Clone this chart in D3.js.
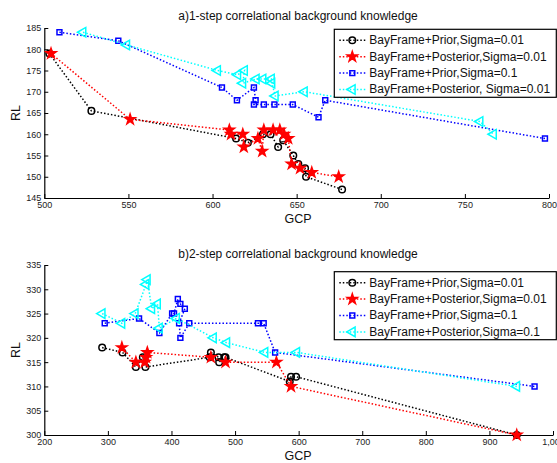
<!DOCTYPE html>
<html>
<head>
<meta charset="utf-8">
<script src="https://cdn.jsdelivr.net/npm/d3@7"></script>
<style>
  body { margin: 0; background: #fff; }
  svg { display: block; font-family: "Liberation Sans", Arial, sans-serif; }
</style>
</head>
<body>
<script>
// panel a) 1-step
const seriesNamesA = ["BayFrame+Prior,Sigma=0.01", "BayFrame+Posterior,Sigma=0.01",
                      "BayFrame+Prior,Sigma=0.1", "BayFrame+Posterior, Sigma=0.01"];
const priorA001 = [[503,179],[528,165.5],[614,159],[621,158],[630,160],[634.5,160],[639,157],[642,158.6],
                   [648,155],[651,153],[655,152],[655.6,150],[677,147]];
const postA001 = [[504,179],[551,163.5],[610,161],[611,160],[618,160],[618.6,157],[627,159],[629.5,156],
                  [630.5,161],[636,161],[640,161],[642.5,160],[645,159],[647,153],[652,152],[659,151],[675,150]];
const priorA01 = [[509,184],[544,182],[605.6,171],[614.5,168],[624.6,171],[625.6,168],[624.6,167],
                  [630.5,167],[636.8,167],[647.7,167],[663,164],[667,168],[797.6,159]];
const postA01 = [[523,184],[549,181],[603,175],[615,174],[619,175],[618,172],[626,173],[630,173],
                 [635,173],[635.3,172],[637.3,169],[654.6,170],[759,163],[767,160]];
const xTicksA = [500, 550, 600, 650, 700, 750, 800];
const yTicksA = [145, 150, 155, 160, 165, 170, 175, 180, 185];

// panel b) 2-step
const seriesNamesB = ["BayFrame+Prior,Sigma=0.01", "BayFrame+Posterior,Sigma=0.01",
                      "BayFrame+Prior,Sigma=0.1", "BayFrame+Posterior,Sigma=0.1"];
const priorB001 = [[291,318],[323,317],[344,314],[355,316],[359,314],[460,316],[462,317],[474,316],
                   [475,315],[483,316],[485,316],[586,311],[588,312],[596,312],[943,300]];
const postB001 = [[322,318],[344,315],[358,315],[360,316],[362,317],[462,316],[485,315],[565,315],
                  [588,310],[943,300]];
const priorB01 = [[295,323],[349,324],[381,321],[401,325],[404,325],[410,328],[414,327],[421,326],
                  [412,323],[414,320],[428,323],[536,323],[545,323],[563,317],[971,310]];
const postB01 = [[291,325],[322,323],[343,325],[360,331],[362,332],[369,326],[378,327],[381,322],
                 [408,324],[466,320],[487,319],[547,317],[597,317],[943,310]];
const xTicksB = [200, 300, 400, 500, 600, 700, 800, 900, 1000];
const yTicksB = [300, 305, 310, 315, 320, 325, 330, 335];

const W = 557, H = 463;
const svg = d3.select("body").append("svg").attr("width", W).attr("height", H);

// estilos de cada serie
const styles = [
  {color: "#000000", sym: d3.symbolCircle, size: 34, fill: "none", rot: 0},
  {color: "#ff0000", sym: d3.symbolStar, size: 32, fill: "#ff0000", rot: 0},
  {color: "#0000ff", sym: d3.symbolSquare, size: 24, fill: "none", rot: 0},
  {color: "#00ffff", sym: d3.symbolTriangle, size: 40, fill: "none", rot: -90}
];

function panel(cfg) {
  const g = svg.append("g");
  const x = d3.scaleLinear().domain(cfg.xDomain).range([cfg.left, cfg.right]);
  const y = d3.scaleLinear().domain(cfg.yDomain).range([cfg.bottom, cfg.top]);

  // ejes (ticks hacia adentro, como MATLAB)
  const xAxis = g.append("g").attr("transform", `translate(0,${cfg.bottom})`)
    .call(d3.axisBottom(x).tickValues(cfg.xTicks).tickSizeInner(-4).tickSizeOuter(0).tickPadding(4));
  const yAxis = g.append("g").attr("transform", `translate(${cfg.left},0)`)
    .call(d3.axisLeft(y).tickValues(cfg.yTicks).tickSizeInner(-4).tickSizeOuter(0).tickPadding(3));
  [xAxis, yAxis].forEach(a => {
    a.selectAll("text").attr("font-size", 9).attr("fill", "#222")
      .style("font-family", "Liberation Sans, Arial, sans-serif");
    a.select(".domain").attr("stroke", "#000").attr("stroke-width", 1.2);
    a.selectAll(".tick line").attr("stroke", "#000");
  });

  // series
  cfg.series.forEach((data, i) => {
    const st = styles[i];
    const line = d3.line().x(d => x(d[0])).y(d => y(d[1]));
    g.append("path").datum(data)
      .attr("d", line)
      .attr("fill", "none")
      .attr("stroke", st.color)
      .attr("stroke-width", 1.5)
      .attr("stroke-dasharray", "1.5,2");
    g.append("g").selectAll("path").data(data).enter().append("path")
      .attr("d", d3.symbol().type(st.sym).size(st.size))
      .attr("transform", d => `translate(${x(d[0])},${y(d[1])}) rotate(${st.rot})`)
      .attr("fill", st.fill)
      .attr("stroke", st.color)
      .attr("stroke-width", 1.5);
  });

  // títulos
  g.append("text").attr("x", cfg.titleX).attr("y", cfg.titleY)
    .attr("text-anchor", "middle").attr("font-size", 12).attr("fill", "#111").text(cfg.title);
  g.append("text").attr("x", 298).attr("y", cfg.bottom + 25)
    .attr("text-anchor", "middle").attr("font-size", 12.5).attr("fill", "#111").text("GCP");
  g.append("text")
    .attr("transform", `translate(20,${(cfg.top + cfg.bottom) / 2}) rotate(-90)`)
    .attr("text-anchor", "middle").attr("font-size", 12.5).attr("fill", "#111").text("RL");

  // leyenda
  const lg = g.append("g").attr("transform", `translate(${cfg.legX},${cfg.legY})`);
  lg.append("rect").attr("x", 0).attr("y", 0).attr("width", 222).attr("height", 68)
    .attr("fill", "#fff").attr("stroke", "#000").attr("stroke-width", 1.2);
  cfg.names.forEach((name, i) => {
    const st = styles[i];
    const ry = 11 + i * 16.4;
    lg.append("line").attr("x1", 5).attr("x2", 33).attr("y1", ry).attr("y2", ry)
      .attr("stroke", st.color).attr("stroke-width", 1.5).attr("stroke-dasharray", "1.5,2");
    lg.append("path").attr("d", d3.symbol().type(st.sym).size(st.size))
      .attr("transform", `translate(18,${ry}) rotate(${st.rot})`)
      .attr("fill", st.fill).attr("stroke", st.color).attr("stroke-width", 1.5);
    lg.append("text").attr("x", 35).attr("y", ry + 4).attr("font-size", 12)
      .attr("fill", "#111").text(name);
  });
}

panel({
  xDomain: [500, 800], yDomain: [145, 185], left: 44.3, right: 549, top: 28, bottom: 198,
  xTicks: xTicksA, yTicks: yTicksA, series: [priorA001, postA001, priorA01, postA01],
  names: seriesNamesA, title: "a)1-step correlational background knowledge", titleX: 298, titleY: 20,
  legX: 334.3, legY: 29.3
});
panel({
  xDomain: [200, 1000], yDomain: [300, 335], left: 44.3, right: 553, top: 265, bottom: 435,
  xTicks: xTicksB, yTicks: yTicksB, series: [priorB001, postB001, priorB01, postB01],
  names: seriesNamesB, title: "b)2-step correlational background knowledge", titleX: 298, titleY: 258,
  legX: 334.3, legY: 271.7
});
</script>
</body>
</html>
